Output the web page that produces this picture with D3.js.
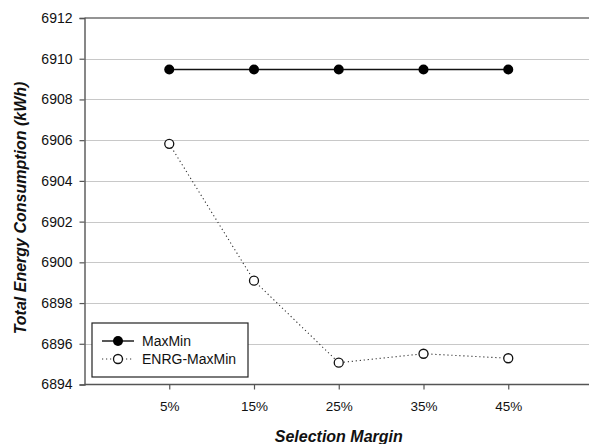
<!DOCTYPE html>
<html>
<head>
<meta charset="utf-8">
<script src="https://cdn.jsdelivr.net/npm/d3@7"></script>
<style>
    body { margin: 0; background: #fff; }
    svg { display: block; font-family: Arial, "Liberation Sans", sans-serif; }
</style>
</head>
<body>
<div id="chart"></div>
<script>
// data
var categories = ["5%", "15%", "25%", "35%", "45%"];
var maxMin = [6909.47, 6909.47, 6909.47, 6909.47, 6909.47];
var enrgMaxMin = [6905.82, 6899.1, 6895.07, 6895.51, 6895.29];
var yTicks = [6894, 6896, 6898, 6900, 6902, 6904, 6906, 6908, 6910, 6912];

var width = 589,
    height = 444;

var margin = {
    top: 18,
    left: 84.5,
    bottom: 60
};

var plot_right = 593,
    plot_bottom = height - margin.bottom;

// categories sit at 1..5 on a 0..6 axis
var x = d3.scaleLinear()
    .domain([0, categories.length + 1])
    .range([margin.left, plot_right]);

var y = d3.scaleLinear()
    .domain([6894, 6912])
    .range([plot_bottom + 0.5, margin.top]);

var svg = d3.select("#chart").append("svg")
    .attr("width", width)
    .attr("height", height);

// grid lines
svg.append("g")
    .selectAll("line")
    .data(yTicks.slice(1, -1))
    .enter().append("line")
    .attr("x1", margin.left)
    .attr("x2", width)
    .attr("y1", function (d) { return Math.round(y(d)) + 0.5; })
    .attr("y2", function (d) { return Math.round(y(d)) + 0.5; })
    .attr("stroke", "#c8c8c8")
    .attr("stroke-width", 1.2);

// top frame line
svg.append("line")
    .attr("x1", margin.left)
    .attr("x2", width)
    .attr("y1", y(6912))
    .attr("y2", y(6912))
    .attr("stroke", "#707070")
    .attr("stroke-width", 1.4);

// y axis
var yAxis = svg.append("g")
    .attr("transform", "translate(" + margin.left + ",0)")
    .call(d3.axisLeft(y).tickValues(yTicks).tickSize(5).tickPadding(7).tickFormat(d3.format("d")));

// x axis
var xAxis = svg.append("g")
    .attr("transform", "translate(0," + (plot_bottom + 0.5) + ")")
    .call(d3.axisBottom(x)
        .tickValues(d3.range(1, categories.length + 1))
        .tickSize(5)
        .tickPadding(12)
        .tickFormat(function (d) { return categories[d - 1]; }));

svg.selectAll(".domain")
    .attr("stroke", "#555")
    .attr("stroke-width", 1.4);
xAxis.select(".domain").attr("d", "M" + margin.left + ",0H" + width);
svg.selectAll(".tick line").attr("stroke", "#555").attr("stroke-width", 1.2);
svg.selectAll(".tick text")
    .attr("fill", "#111")
    .attr("font-family", "Arial, 'Liberation Sans', sans-serif");
yAxis.selectAll(".tick text").attr("font-size", 14);
xAxis.selectAll(".tick text").attr("font-size", 13.5);

// axis titles
svg.append("text")
    .attr("transform", "translate(26,208) rotate(-90)")
    .attr("text-anchor", "middle")
    .attr("font-size", 16)
    .attr("font-weight", "bold")
    .attr("font-style", "italic")
    .attr("fill", "#111")
    .text("Total Energy Consumption (kWh)");

svg.append("text")
    .attr("x", (margin.left + plot_right) / 2)
    .attr("y", 442)
    .attr("text-anchor", "middle")
    .attr("font-size", 16)
    .attr("font-weight", "bold")
    .attr("font-style", "italic")
    .attr("fill", "#111")
    .text("Selection Margin");

var line = d3.line()
    .x(function (d, i) { return x(i + 1); })
    .y(function (d) { return y(d); });

// ENRG-MaxMin series (dotted, open markers)
svg.append("path")
    .datum(enrgMaxMin)
    .attr("d", line)
    .attr("fill", "none")
    .attr("stroke", "#333")
    .attr("stroke-width", 1.1)
    .attr("stroke-dasharray", "1.2,2.8");

svg.append("g")
    .selectAll("circle")
    .data(enrgMaxMin)
    .enter().append("circle")
    .attr("cx", function (d, i) { return x(i + 1); })
    .attr("cy", function (d) { return y(d); })
    .attr("r", 4.5)
    .attr("fill", "#fff")
    .attr("stroke", "#111")
    .attr("stroke-width", 1.3);

// MaxMin series (solid, filled markers)
svg.append("path")
    .datum(maxMin)
    .attr("d", line)
    .attr("fill", "none")
    .attr("stroke", "#111")
    .attr("stroke-width", 1.4);

svg.append("g")
    .selectAll("circle")
    .data(maxMin)
    .enter().append("circle")
    .attr("cx", function (d, i) { return x(i + 1); })
    .attr("cy", function (d) { return y(d); })
    .attr("r", 5)
    .attr("fill", "#000");

// legend
var legend = svg.append("g")
    .attr("transform", "translate(92,323)");

legend.append("rect")
    .attr("width", 156)
    .attr("height", 54)
    .attr("fill", "#fff")
    .attr("stroke", "#222")
    .attr("stroke-width", 1.2);

var legendItems = [
    { name: "MaxMin", dash: null, fill: "#000", r: 5 },
    { name: "ENRG-MaxMin", dash: "1.2,2.8", fill: "#fff", r: 4.5 }
];

var rows = legend.selectAll(".row")
    .data(legendItems)
    .enter().append("g")
    .attr("class", "row")
    .attr("transform", function (d, i) { return "translate(0," + (18 + i * 18) + ")"; });

rows.append("line")
    .attr("x1", 10)
    .attr("x2", 42)
    .attr("stroke", function (d) { return d.dash ? "#333" : "#111"; })
    .attr("stroke-width", function (d) { return d.dash ? 1.1 : 1.4; })
    .attr("stroke-dasharray", function (d) { return d.dash; });

rows.append("circle")
    .attr("cx", 26)
    .attr("r", function (d) { return d.r; })
    .attr("fill", function (d) { return d.fill; })
    .attr("stroke", "#111")
    .attr("stroke-width", function (d) { return d.dash ? 1.3 : 0; });

rows.append("text")
    .attr("x", 50)
    .attr("dy", "0.36em")
    .attr("font-size", 14)
    .attr("fill", "#111")
    .text(function (d) { return d.name; });
</script>
</body>
</html>
